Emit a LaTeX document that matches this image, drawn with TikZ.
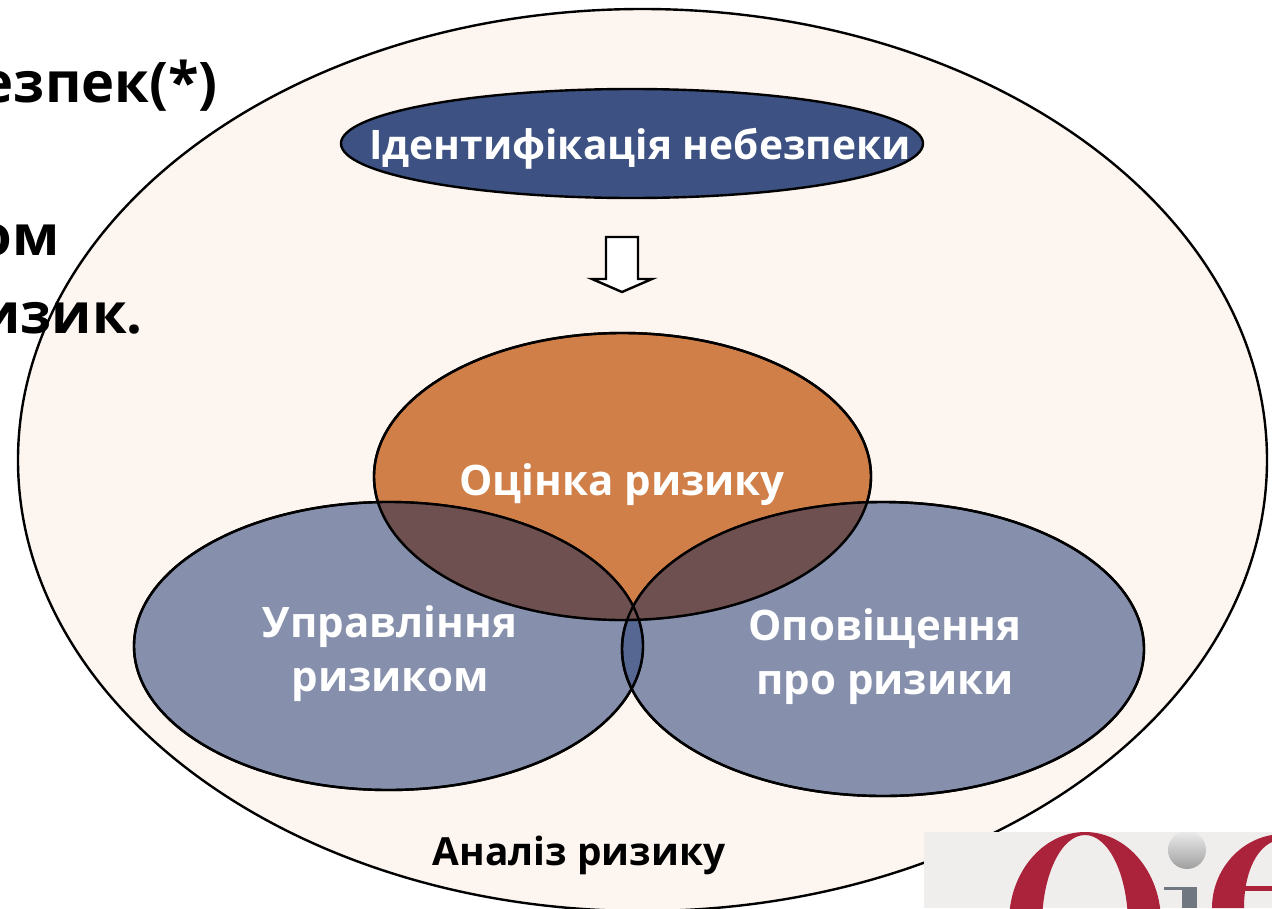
\documentclass[tikz,border=0pt]{standalone}
\usepackage{fontspec}
\setmainfont{Open Sans}
\usetikzlibrary{shapes.geometric}
\definecolor{cream}{HTML}{FDF5EF}
\definecolor{navy}{HTML}{3D5282}
\definecolor{blueov}{HTML}{374D80}
\definecolor{orng}{HTML}{D07F48}
\definecolor{overlapc}{HTML}{6E5050}
\definecolor{logobg}{HTML}{F0EEED}
\definecolor{logored}{HTML}{AB233B}
\definecolor{logogrey}{HTML}{707780}
\tikzset{
  oval/.style={ellipse,draw=black,line width=2.4pt,inner sep=0pt,outer sep=0pt},
  blueoval/.style={oval,fill=blueov,fill opacity=.6,draw opacity=1},
  lbl/.style={font=\fontsize{42}{54}\selectfont\bfseries,text=white,align=center,inner sep=0pt},
  blk/.style={font=\fontsize{56}{60}\selectfont\bfseries,text=black,inner sep=0pt,anchor=base east},
}
\begin{document}
\begin{tikzpicture}[x=1pt,y=-1pt]
\useasboundingbox (0,0) rectangle (1272,908);
\fill[white] (0,0) rectangle (1272,908);
\node[oval,fill=cream,minimum width=1249pt,minimum height=902pt] (outer) at (642.5,460) {};
\node[oval,fill=navy,minimum width=582pt,minimum height=109pt] (ident) at (632,143.5) {};
\node[oval,fill=orng,minimum width=497pt,minimum height=287pt] (assess) at (622.5,476.5) {};
\node[blueoval,minimum width=509pt,minimum height=288pt] (manage) at (388.5,646) {};
\node[blueoval,minimum width=522pt,minimum height=294pt] (comm) at (883,649) {};
% darker overlaps of the orange oval with the two blue ovals
\begin{scope}
\clip (622.5,476.5) ellipse (248.5 and 143.5);
\fill[overlapc] (388.5,646) ellipse (254.5 and 144);
\fill[overlapc] (883,649) ellipse (261 and 147);
\end{scope}
\draw[line width=2.4pt] (622.5,476.5) ellipse (248.5 and 143.5);
\draw[line width=2.4pt] (388.5,646) ellipse (254.5 and 144);
\draw[line width=2.4pt] (883,649) ellipse (261 and 147);
\draw[line width=2.4pt,fill=white,line join=miter]
  (606,237) -- (638,237) -- (638,279) -- (652,279) -- (622,292) -- (592,279) -- (606,279) -- cycle;
\node[blk] (t1) at (218,102) {езпек(*)};
\node[blk] (t2) at (60,255) {ом};
\node[blk] (t3) at (143,333) {изик.};
\node[lbl,font=\fontsize{40.7}{54}\selectfont\bfseries] (l1) at (640,149) {Ідентифікація небезпеки};
\node[lbl] (l2) at (622,484.5) {Оцінка ризику};
\node[lbl] (l3) at (390,654) {Управління\\ризиком};
\node[lbl] (l4) at (885,657) {Оповіщення\\про ризики};
\node[inner sep=0pt,font=\fontsize{38.8}{44}\selectfont\bfseries,text=black] (l5) at (579,855) {Аналіз ризику};
% logo
\begin{scope}
\clip (924,832) rectangle (1272,908);
\fill[logobg] (924,832) rectangle (1272,908);
\fill[logored,even odd rule] (1085,922) ellipse (76 and 90) (1085,925) ellipse (43 and 90);
\shade[top color=gray!15,bottom color=gray!75] (1187,850) circle (19);
\fill[logogrey] (1182,887) rectangle (1197,908);
\fill[logogrey] (1164,887) rectangle (1197,890);
\fill[logored,even odd rule] (1272,835) .. controls (1240,840) and (1212,870) .. (1212,908) -- (1244,908) .. controls (1244,875) and (1255,850) .. (1272,842) -- cycle;
\fill[logored] (1244,886) rectangle (1272,891);
\end{scope}
\end{tikzpicture}
\end{document}
